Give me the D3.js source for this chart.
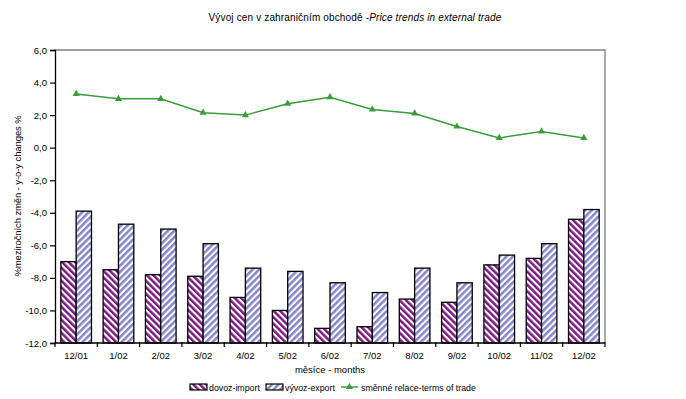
<!DOCTYPE html>
<html>
<head>
<meta charset="utf-8">
<script src="https://cdn.jsdelivr.net/npm/d3@7"></script>
<style>
  html, body { margin: 0; padding: 0; background: #fff; }
  svg text { font-family: Arial, "Liberation Sans", sans-serif; fill: #000; }
</style>
</head>
<body>
<svg id="chart" width="686" height="399"></svg>
<script>
const categories = ["12/01","1/02","2/02","3/02","4/02","5/02","6/02","7/02","8/02","9/02","10/02","11/02","12/02"];
const importValues = [-7.0,-7.5,-7.8,-7.9,-9.2,-10.0,-11.1,-11.0,-9.3,-9.5,-7.2,-6.8,-4.4];
const exportValues = [-3.9,-4.7,-5.0,-5.9,-7.4,-7.6,-8.3,-8.9,-7.4,-8.3,-6.6,-5.9,-3.8];
const termsValues = [3.3,3.0,3.0,2.15,2.0,2.7,3.1,2.35,2.1,1.3,0.6,1.0,0.6];
const yTicks = [6,4,2,0,-2,-4,-6,-8,-10,-12];
const seriesNames = ["dovoz-import","vývoz-export","směnné relace-terms of trade"];

const svg = d3.select("#chart");
const m = {left: 55, right: 605, top: 50, bottom: 343};

const defs = svg.append("defs");
function stripe(id, color, angle) {
  const p = defs.append("pattern").attr("id", id)
    .attr("patternUnits", "userSpaceOnUse")
    .attr("width", 4.6).attr("height", 10)
    .attr("patternTransform", `rotate(${angle})`);
  p.append("rect").attr("width", 4.6).attr("height", 10).attr("fill", "#fff");
  p.append("rect").attr("width", 2.5).attr("height", 10).attr("fill", color);
}
stripe("impPat", "#7a1a7e", -45);
stripe("expPat", "#8585c8", 45);

const x = d3.scaleBand().domain(categories).range([m.left, m.right]).paddingInner(0).paddingOuter(0);
const x1 = d3.scaleBand().domain(["imp","exp"]).range([0, x.bandwidth()]).paddingInner(0).paddingOuter(0.38);
const y = d3.scaleLinear().domain([-12, 6]).range([m.bottom, m.top]);

// plot border (top/right grey)
svg.append("path")
  .attr("d", `M${m.left},${m.top}H${m.right}V${m.bottom}`)
  .attr("fill", "none").attr("stroke", "#808080").attr("stroke-width", 1.3);

// bars
const groups = svg.append("g");
categories.forEach((c, i) => {
  const vals = [["imp", importValues[i], "url(#impPat)"], ["exp", exportValues[i], "url(#expPat)"]];
  vals.forEach(([k, v, f]) => {
    groups.append("rect")
      .attr("x", x(c) + x1(k))
      .attr("width", x1.bandwidth())
      .attr("y", y(v))
      .attr("height", y(-12) - y(v))
      .attr("fill", f)
      .attr("stroke", "#000").attr("stroke-width", 1.3);
  });
});

// axes
const yAxis = d3.axisLeft(y).tickValues(yTicks).tickSize(5).tickPadding(3)
  .tickFormat(d => d3.format(".1f")(d).replace(".", ",").replace("−", "-"));
const gy = svg.append("g").attr("transform", `translate(${m.left},0)`).call(yAxis);
gy.selectAll("text").attr("font-size", "9.5px").attr("font-family", "Arial, 'Liberation Sans', sans-serif");
gy.select(".domain").attr("stroke", "#000").attr("stroke-width", 1.3);
gy.selectAll(".tick line").attr("stroke", "#000").attr("stroke-width", 1.2);

const xTickScale = d3.scaleLinear().domain([0, categories.length]).range([m.left, m.right]);
const gx = svg.append("g").attr("transform", `translate(0,${m.bottom})`);
gx.append("line").attr("x1", m.left).attr("x2", m.right).attr("stroke", "#000").attr("stroke-width", 1.3);
d3.range(categories.length + 1).forEach(i => {
  gx.append("line").attr("x1", xTickScale(i)).attr("x2", xTickScale(i))
    .attr("y1", -1).attr("y2", 4).attr("stroke", "#000").attr("stroke-width", 1.2);
});
categories.forEach(c => {
  gx.append("text").attr("x", x(c) + x.bandwidth() / 2).attr("y", 16)
    .attr("text-anchor", "middle").attr("font-size", "9.5px").text(c);
});

// line
const lineColor = "#3c9b3c";
const line = d3.line().x((d, i) => x(categories[i]) + x.bandwidth() / 2).y(d => y(d));
svg.append("path").datum(termsValues).attr("d", line)
  .attr("fill", "none").attr("stroke", lineColor).attr("stroke-width", 1.5);
const tri = d3.symbol().type(d3.symbolTriangle).size(22);
svg.append("g").selectAll("path").data(termsValues).join("path")
  .attr("d", tri)
  .attr("transform", (d, i) => `translate(${x(categories[i]) + x.bandwidth() / 2},${y(d)})`)
  .attr("fill", lineColor);

// titles
const title = svg.append("text").attr("x", 355).attr("y", 21).attr("text-anchor", "middle")
  .attr("font-size", "10px").attr("letter-spacing", "0.15px");
title.append("tspan").text("Vývoj cen v zahraničním obchodě -");
title.append("tspan").attr("font-style", "italic").text("Price trends in external trade");

svg.append("text").attr("x", 330).attr("y", 373).attr("text-anchor", "middle")
  .attr("font-size", "9.5px").text("měsíce - months");

svg.append("text").attr("transform", "translate(21,196) rotate(-90)").attr("text-anchor", "middle")
  .attr("font-size", "9.5px").attr("letter-spacing", "-0.1px").text("%meziročních změn - y-o-y changes %");

// legend
const lg = svg.append("g").attr("transform", "translate(0,388)");
lg.append("rect").attr("x", 190).attr("y", -4).attr("width", 17).attr("height", 6)
  .attr("fill", "url(#impPat)").attr("stroke", "#000").attr("stroke-width", 1.2);
lg.append("text").attr("x", 209).attr("y", 3).attr("font-size", "8.8px").text(seriesNames[0]);
lg.append("rect").attr("x", 266).attr("y", -4).attr("width", 17).attr("height", 6)
  .attr("fill", "url(#expPat)").attr("stroke", "#000").attr("stroke-width", 1.2);
lg.append("text").attr("x", 285).attr("y", 3).attr("font-size", "8.8px").text(seriesNames[1]);
lg.append("line").attr("x1", 341).attr("x2", 358).attr("y1", -1).attr("y2", -1)
  .attr("stroke", lineColor).attr("stroke-width", 1.5);
lg.append("path").attr("d", tri).attr("transform", "translate(349.5,-1)").attr("fill", lineColor);
lg.append("text").attr("x", 361).attr("y", 3).attr("font-size", "8.8px").text(seriesNames[2]);
</script>
</body>
</html>
